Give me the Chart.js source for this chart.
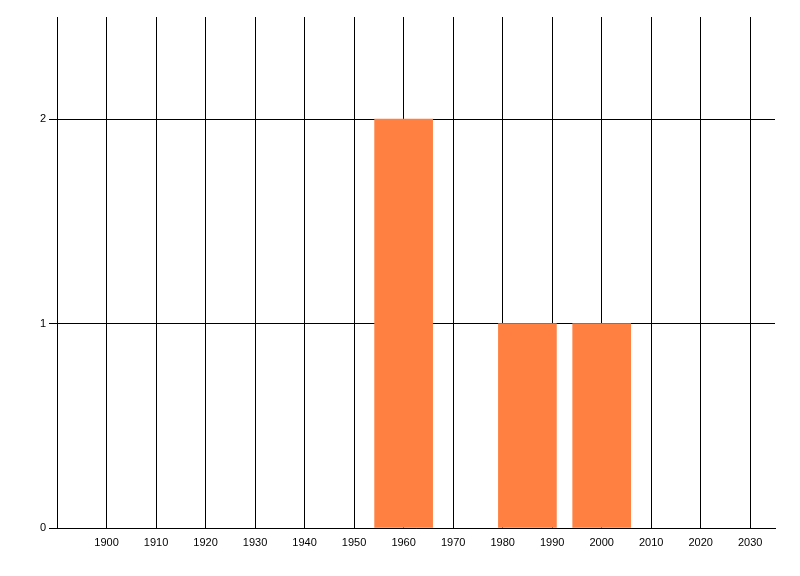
<!DOCTYPE html>
<html>
<head>
<meta charset="utf-8">
<script src="https://cdn.jsdelivr.net/npm/chart.js@4/dist/chart.umd.min.js"></script>
<style>
    html, body { margin: 0; padding: 0; background: #fff; }
    #wrap { width: 800px; height: 576px; }
</style>
</head>
<body>
<div id="wrap"><canvas id="chart" width="800" height="576"></canvas></div>
<script>
const years = [1960, 1985, 2000];
const counts = [2, 1, 1];
const xTickLabels = [1900, 1910, 1920, 1930, 1940, 1950, 1960, 1970, 1980, 1990, 2000, 2010, 2020, 2030];
const yTickLabels = [0, 1, 2];

const chartCanvas = document.getElementById("chart");
const tickFont = { family: "'Liberation Sans', Arial, sans-serif", size: 11 };

new Chart(chartCanvas, {
    type: "bar",
    data: {
        datasets: [
            {
                data: years.map((y, i) => ({ x: y, y: counts[i] })),
                backgroundColor: "rgb(255,128,65)",
                borderWidth: 0,
                barThickness: 58,
            },
        ],
    },
    options: {
        responsive: false,
        animation: false,
        layout: { padding: { top: 17, right: 25, left: 0, bottom: 0 } },
        plugins: { legend: { display: false }, tooltip: { enabled: false } },
        scales: {
            x: {
                type: "linear",
                min: 1890,
                max: 2035,
                offset: false,
                afterBuildTicks: (scale) => {
                    scale.ticks = xTickLabels.map((v) => ({ value: v }));
                },
                afterFit: (scale) => { scale.height = 48; },
                grid: { color: "#000", lineWidth: 1, drawTicks: false, offset: false },
                border: { color: "#000", width: 1 },
                ticks: {
                    color: "#000",
                    font: tickFont,
                    padding: 8,
                    maxRotation: 0,
                    autoSkip: false,
                    callback: (v) => String(v),
                },
            },
            y: {
                min: 0,
                max: 2.5,
                afterBuildTicks: (scale) => {
                    scale.ticks = yTickLabels.map((v) => ({ value: v }));
                },
                afterFit: (scale) => { scale.width = 57; },
                grid: { color: "#000", lineWidth: 1, drawTicks: true, tickLength: 8 },
                border: { color: "#000", width: 1 },
                ticks: { color: "#000", font: tickFont, padding: 3 },
            },
        },
    },
});
</script>
</body>
</html>
